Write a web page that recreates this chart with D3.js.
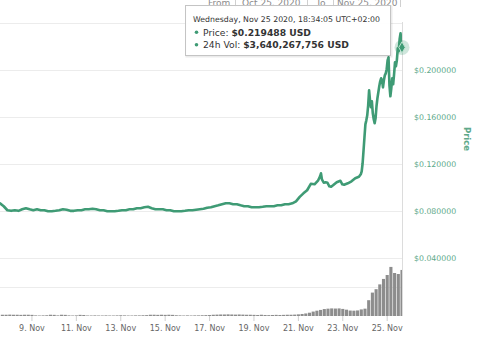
<!DOCTYPE html>
<html>
<head>
<meta charset="utf-8">
<script src="https://cdn.jsdelivr.net/npm/d3@7"></script>
<style>
  html, body { margin: 0; padding: 0; background: #fff; }
  svg { display: block; font-family: "DejaVu Sans", sans-serif; }
</style>
</head>
<body>
<svg id="chart" width="492" height="342"></svg>
<script>
// Time window shown (UTC)
const rangeStart = "2020-11-07T14:00:00Z";
const rangeEnd = "2020-11-25T16:34:05Z";

// Price samples: hours after rangeStart, price in USD
const priceHours = [
  0, 4, 8, 12, 16, 20, 24, 28, 32, 36, 40, 44, 48, 52, 56, 60, 64, 68, 72, 76,
  80, 84, 88, 92, 96, 100, 104, 108, 112, 116, 120, 124, 128, 132, 136, 140, 144, 148, 152, 156,
  160, 164, 168, 172, 176, 180, 184, 188, 192, 196, 200, 204, 208, 212, 216, 220, 224, 228, 232, 236,
  240, 244, 248, 252, 256, 260, 264, 268, 272, 276, 280, 284, 288, 292, 296, 300, 304, 308, 312, 316,
  320, 324, 328, 332, 336, 340, 344, 346, 347, 348, 350, 352, 354, 356, 358, 360, 364, 368, 370, 372,
  376, 380, 384, 388, 390, 391, 392, 393, 394, 395, 396, 397, 398, 399, 400, 401, 402, 403, 404, 405,
  406, 407, 408, 409, 410, 411, 412, 413, 414, 415, 416, 417, 418, 419, 420, 421, 422, 423, 424, 425,
  426, 427, 428, 429, 430, 431, 432, 433, 434.568
];
const priceUsd = [
  0.0868, 0.0843, 0.0809, 0.0804, 0.0809, 0.0804, 0.0817, 0.0826, 0.0817, 0.0809, 0.0817, 0.0809, 0.0809, 0.0800, 0.0800, 0.0804, 0.0809, 0.0817, 0.0813, 0.0804,
  0.0804, 0.0809, 0.0809, 0.0817, 0.0817, 0.0821, 0.0817, 0.0809, 0.0809, 0.0800, 0.0800, 0.0800, 0.0804, 0.0809, 0.0809, 0.0817, 0.0817, 0.0826, 0.0826, 0.0834,
  0.0838, 0.0826, 0.0817, 0.0817, 0.0817, 0.0809, 0.0809, 0.0800, 0.0800, 0.0800, 0.0804, 0.0809, 0.0809, 0.0813, 0.0817, 0.0821, 0.0830, 0.0834, 0.0843, 0.0851,
  0.0860, 0.0868, 0.0868, 0.0860, 0.0860, 0.0851, 0.0843, 0.0843, 0.0834, 0.0834, 0.0834, 0.0838, 0.0843, 0.0843, 0.0843, 0.0851, 0.0851, 0.0860, 0.0860, 0.0868,
  0.0885, 0.0923, 0.0953, 0.0979, 0.1034, 0.1030, 0.1064, 0.1098, 0.1123, 0.1072, 0.1043, 0.1047, 0.1043, 0.1013, 0.1009, 0.1021, 0.1047, 0.1060, 0.1030, 0.1026,
  0.1038, 0.1055, 0.1081, 0.1094, 0.1115, 0.1140, 0.1209, 0.1319, 0.1430, 0.1540, 0.1574, 0.1617, 0.1702, 0.1830, 0.1745, 0.1685, 0.1736, 0.1634, 0.1583, 0.1549,
  0.1591, 0.1694, 0.1762, 0.1813, 0.1864, 0.1906, 0.1932, 0.1915, 0.1855, 0.1915, 0.1957, 0.1974, 0.2009, 0.2085, 0.2111, 0.1872, 0.1779, 0.1847, 0.1932, 0.1881,
  0.1966, 0.2068, 0.2034, 0.2085, 0.2187, 0.2162, 0.2264, 0.2315, 0.219488
];

// 24h volume (USD), one bar every 4 hours, the last one at rangeEnd
const volumeUsd = [
  0.10e9, 0.10e9, 0.11e9, 0.10e9, 0.10e9, 0.09e9, 0.10e9, 0.10e9, 0.09e9, 0.05e9,
  0.04e9, 0.05e9, 0.06e9, 0.10e9, 0.09e9, 0.05e9, 0.10e9, 0.09e9, 0.05e9, 0.04e9,
  0.05e9, 0.09e9, 0.08e9, 0.04e9, 0.04e9, 0.05e9, 0.04e9, 0.04e9, 0.05e9, 0.04e9,
  0.04e9, 0.05e9, 0.06e9, 0.05e9, 0.04e9, 0.04e9, 0.05e9, 0.05e9, 0.06e9, 0.07e9,
  0.10e9, 0.10e9, 0.09e9, 0.10e9, 0.09e9, 0.10e9, 0.09e9, 0.06e9, 0.05e9, 0.04e9,
  0.05e9, 0.04e9, 0.05e9, 0.05e9, 0.06e9, 0.07e9, 0.08e9, 0.10e9, 0.11e9, 0.12e9,
  0.12e9, 0.13e9, 0.12e9, 0.11e9, 0.12e9, 0.11e9, 0.10e9, 0.10e9, 0.09e9, 0.08e9,
  0.10e9, 0.08e9, 0.07e9, 0.08e9, 0.09e9, 0.08e9, 0.09e9, 0.10e9, 0.10e9, 0.11e9,
  0.13e9, 0.16e9, 0.20e9, 0.26e9, 0.35e9, 0.42e9, 0.48e9, 0.55e9, 0.58e9, 0.60e9,
  0.59e9, 0.60e9, 0.56e9, 0.50e9, 0.43e9, 0.42e9, 0.44e9, 0.52e9, 0.58e9, 1.25e9,
  1.85e9, 2.12e9, 2.50e9, 2.93e9, 3.24e9, 3.88e9, 3.40e9, 3.32e9, 3.640267756e9
];
const volumeStepHours = 4;

// Axis ticks
const priceTicks = [0.04, 0.08, 0.12, 0.16, 0.20, 0.24];
const labelledPriceTicks = [0.04, 0.08, 0.12, 0.16, 0.20];
const dateTicks = ["2020-11-09", "2020-11-11", "2020-11-13", "2020-11-15", "2020-11-17",
                   "2020-11-19", "2020-11-21", "2020-11-23", "2020-11-25"];

// Header / tooltip text
const rangeFromText = "Oct 25, 2020";
const rangeToText = "Nov 25, 2020";
const hoverStamp = "Wednesday, Nov 25 2020, 18:34:05 UTC+02:00";
const priceTitle = "Price";

const green = "#3f9b75";
const axisGreen = "#5ea98a";
const HOUR = 3600 * 1000;

const t0 = new Date(rangeStart);
const t1 = new Date(rangeEnd);
const prices = priceHours.map((h, i) => ({ t: new Date(+t0 + h * HOUR), v: priceUsd[i] }));
const vols = volumeUsd.map((v, i) => ({
  t: new Date(+t1 - (volumeUsd.length - 1 - i) * volumeStepHours * HOUR), v
}));

const svg = d3.select("#chart");
const plotRight = 402;

const x = d3.scaleUtc().domain([t0, t1]).range([0, plotRight]);
const y = d3.scaleLinear().domain([0, 0.24]).range([305.3, 23.3]);
const yVol = d3.scaleLinear().domain([0, 4e9]).range([316, 265.4]);

svg.append("defs").append("clipPath").attr("id", "plotClip")
  .append("rect").attr("x", 0).attr("y", 0).attr("width", plotRight).attr("height", 342);

// Horizontal grid
svg.append("g").selectAll("line").data(priceTicks).join("line")
  .attr("x1", 0).attr("x2", plotRight)
  .attr("y1", d => Math.round(y(d)) + 0.5).attr("y2", d => Math.round(y(d)) + 0.5)
  .attr("stroke", "#ececec").attr("stroke-width", 1);
// Volume pane top line
svg.append("line").attr("x1", 0).attr("x2", plotRight)
  .attr("y1", 287.5).attr("y2", 287.5).attr("stroke", "#ececec");

// Price axis line on the right of the plot
svg.append("line").attr("x1", plotRight + 0.5).attr("x2", plotRight + 0.5)
  .attr("y1", 22).attr("y2", 316).attr("stroke", "#dcdcdc");

// Volume bars
const barW = (x(new Date(+t0 + volumeStepHours * HOUR)) - x(t0)) - 0.6;
svg.append("g").attr("clip-path", "url(#plotClip)")
  .selectAll("rect").data(vols).join("rect")
  .attr("x", d => x(d.t) - barW / 2)
  .attr("width", barW)
  .attr("y", d => yVol(d.v))
  .attr("height", d => yVol(0) - yVol(d.v))
  .attr("fill", "#8d8d8d");

// Price line
svg.append("path").datum(prices)
  .attr("clip-path", "url(#plotClip)")
  .attr("fill", "none").attr("stroke", green).attr("stroke-width", 2.6)
  .attr("stroke-linejoin", "round").attr("stroke-linecap", "round")
  .attr("d", d3.line().x(d => x(d.t)).y(d => y(d.v)));

// X axis ticks + labels
const xAxis = d3.axisBottom(x)
  .tickValues(dateTicks.map(s => new Date(s + "T00:00:00Z")))
  .tickFormat(d => d3.utcFormat("%-d")(d) + ". " + d3.utcFormat("%b")(d))
  .tickSize(5).tickPadding(4);
const gx = svg.append("g").attr("transform", "translate(0,316)").call(xAxis);
gx.select(".domain").remove();
gx.selectAll(".tick line").attr("stroke", "#cfcfcf");
gx.selectAll(".tick text").attr("fill", "#666").attr("font-size", 8)
  .attr("font-family", "DejaVu Sans, sans-serif");

// Y axis labels (right)
const yAxis = d3.axisRight(y).tickValues(labelledPriceTicks)
  .tickFormat(d => "$" + d3.format(".6f")(d)).tickSize(0).tickPadding(12);
const gy = svg.append("g").attr("transform", `translate(${plotRight},0)`).call(yAxis);
gy.select(".domain").remove();
gy.selectAll(".tick text").attr("fill", axisGreen).attr("font-size", 7.8)
  .attr("font-family", "DejaVu Sans, sans-serif");

svg.append("text").text(priceTitle)
  .attr("transform", "translate(464,139) rotate(90)")
  .attr("text-anchor", "middle").attr("fill", axisGreen)
  .attr("font-size", 8.5).attr("font-weight", "bold");

// Date range selector (partially above the frame)
const hdr = svg.append("g").attr("fill", "#8a8a8a").attr("font-size", 9);
hdr.append("text").attr("x", 208).attr("y", 5.5).text("From");
hdr.append("text").attr("x", 242).attr("y", 5.5).text(rangeFromText);
hdr.append("text").attr("x", 316).attr("y", 5.5).text("To");
hdr.append("text").attr("x", 337).attr("y", 5.5).text(rangeToText);
[235.5, 307.5, 333.5, 400.5].forEach(px => {
  svg.append("line").attr("x1", px).attr("x2", px).attr("y1", 0).attr("y2", 7)
    .attr("stroke", "#d0d0d0");
});

// Hover marker at the latest point
const last = prices[prices.length - 1];
const lastVol = vols[vols.length - 1];
svg.append("circle").attr("cx", x(last.t)).attr("cy", y(last.v)).attr("r", 7.5)
  .attr("fill", green).attr("opacity", 0.25);
svg.append("path")
  .attr("transform", `translate(${x(last.t)},${y(last.v)})`)
  .attr("d", d3.symbol(d3.symbolDiamond, 36)())
  .attr("fill", green).attr("stroke", "#bfe3d2").attr("stroke-width", 1);

// Tooltip
const tip = svg.append("g").attr("transform", "translate(185.5,5.5)");
tip.append("rect").attr("x", 1).attr("y", 1).attr("width", 205).attr("height", 50)
  .attr("fill", "none").attr("stroke", "#000").attr("stroke-opacity", 0.08).attr("stroke-width", 2);
tip.append("rect").attr("width", 205).attr("height", 50)
  .attr("fill", "#fff").attr("fill-opacity", 0.94).attr("stroke", "#c4c4c4");
tip.append("text").attr("x", 7.5).attr("y", 16.5).attr("font-size", 7.8).attr("fill", "#333")
  .text(hoverStamp);
const rows = [
  { label: "Price: ", value: "$" + d3.format(".6f")(last.v) + " USD", y: 30 },
  { label: "24h Vol: ", value: "$" + d3.format(",")(Math.round(lastVol.v)) + " USD", y: 42.5 }
];
rows.forEach(r => {
  tip.append("circle").attr("cx", 11).attr("cy", r.y - 3.2).attr("r", 1.8).attr("fill", green);
  const t = tip.append("text").attr("x", 17.5).attr("y", r.y).attr("font-size", 9.2).attr("fill", "#333");
  t.append("tspan").text(r.label);
  t.append("tspan").attr("font-weight", "bold").text(r.value);
});
</script>
</body>
</html>
